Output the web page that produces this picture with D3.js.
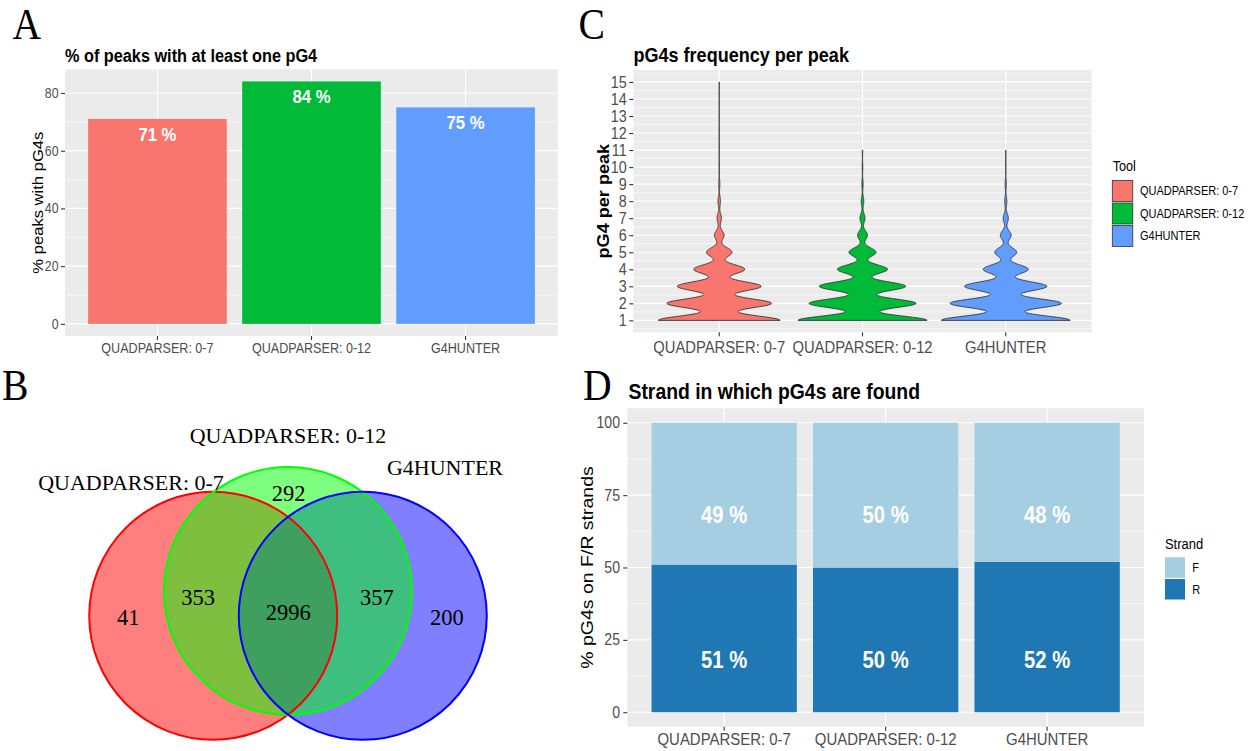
<!DOCTYPE html>
<html>
<head>
<meta charset="utf-8">
<script src="https://cdn.jsdelivr.net/npm/d3@7"></script>
<style>
  html, body { margin: 0; padding: 0; background: #ffffff; }
  svg { display: block; }
</style>
</head>
<body>
<svg id="fig" width="1256" height="751"></svg>
<script>
// ---------------- data ----------------
const tools = ["QUADPARSER: 0-7", "QUADPARSER: 0-12", "G4HUNTER"];
const toolColors = ["#F8766D", "#00BA38", "#619CFF"];

// A: % of peaks with at least one pG4
const pctWithPG4 = [71, 84, 75];
const pctTicks = [0, 20, 40, 60, 80];
const pctMinor = [10, 30, 50, 70];

// B: Venn region counts
const vennSets = ["QUADPARSER: 0-7", "QUADPARSER: 0-12", "G4HUNTER"];
const vennColors = ["#FF0000", "#00FF00", "#0000FF"];
const vennRegions = ["Q7 only", "Q12 only", "G4H only", "Q7 & Q12", "Q12 & G4H", "all three"];
const vennCounts = [41, 292, 200, 353, 357, 2996];

// C: number of pG4 per peak (peak counts per value)
const pg4Values   = [1, 2, 3, 4, 5, 6, 7, 8, 9, 10, 11, 12, 13, 14, 15];
const pg4CountsQ7  = [1016, 873, 700, 426, 213, 81, 37, 21, 10, 5, 3, 2, 1, 1, 1];
const pg4CountsQ12 = [1228, 1019, 823, 479, 258, 95, 49, 25, 12, 6, 4, 0, 0, 0, 0];
const pg4CountsG4H = [1116, 965, 714, 391, 190, 94, 45, 19, 11, 5, 3, 0, 0, 0, 0];
const pg4Ticks = [1, 2, 3, 4, 5, 6, 7, 8, 9, 10, 11, 12, 13, 14, 15];
const pg4Minor = [0.5, 1.5, 2.5, 3.5, 4.5, 5.5, 6.5, 7.5, 8.5, 9.5, 10.5, 11.5, 12.5, 13.5, 14.5, 15.5];

// D: strand distribution
const strands = ["F", "R"];
const strandColors = ["#A6CEE3", "#1F78B4"];
const pctForward = [49, 50, 48];
const pctReverse = [51, 50, 52];
const strandTicks = [0, 25, 50, 75, 100];
const strandMinor = [12.5, 37.5, 62.5, 87.5];

// ---------------- helpers ----------------
const svg = d3.select("#fig");
const SANS = "'Liberation Sans', Arial, Helvetica, sans-serif";
const SERIF = "'Liberation Serif', 'Times New Roman', Times, serif";
const SX = 0.88; // horizontal text compression of the plot panels

function txt(g, x, y, str, o = {}) {
  const sx = o.sx ?? SX;
  let tr = `translate(${x},${y}) scale(${sx},1)`;
  if (o.rot) tr += ` rotate(${o.rot})`;
  const t = g.append("text")
    .attr("transform", tr)
    .attr("font-family", o.family || SANS)
    .attr("font-size", o.size || 12)
    .attr("font-weight", o.weight || "normal")
    .attr("fill", o.fill || "#000000")
    .attr("text-anchor", o.anchor || "start")
    .text(str);
  if (o.dy) t.attr("dy", o.dy);
  return t;
}

function panelBackground(g, x, y, yMajor, yMinor) {
  const [xa, xb] = x.range();
  const [ya, yb] = y.range();
  g.append("rect").attr("x", xa).attr("y", yb).attr("width", xb - xa).attr("height", ya - yb)
    .attr("fill", "#EBEBEB");
  g.append("g").selectAll("line").data(yMinor).join("line")
    .attr("x1", xa).attr("x2", xb).attr("y1", d => y(d)).attr("y2", d => y(d))
    .attr("stroke", "#ffffff").attr("stroke-width", 0.6);
  g.append("g").selectAll("line").data(yMajor).join("line")
    .attr("x1", xa).attr("x2", xb).attr("y1", d => y(d)).attr("y2", d => y(d))
    .attr("stroke", "#ffffff").attr("stroke-width", 1.15);
  g.append("g").selectAll("line").data(x.domain()).join("line")
    .attr("x1", d => x(d) + x.bandwidth() / 2).attr("x2", d => x(d) + x.bandwidth() / 2)
    .attr("y1", yb).attr("y2", ya)
    .attr("stroke", "#ffffff").attr("stroke-width", 1.15);
}

function styleAxis(ax, size) {
  ax.select(".domain").remove();
  ax.selectAll(".tick line").attr("stroke", "#333333").attr("stroke-width", 1.1);
  ax.selectAll(".tick text")
    .attr("fill", "#4D4D4D").attr("font-size", size).attr("font-family", SANS)
    .each(function () {
      const t = d3.select(this);
      const tx = +t.attr("x") || 0, ty = +t.attr("y") || 0;
      t.attr("x", null).attr("y", null)
        .attr("transform", `translate(${tx},${ty}) scale(${SX},1)`);
    });
}

function axes(g, x, y, yTicks, opt) {
  const [ya] = y.range();
  const [xa] = x.range();
  const axB = g.append("g").attr("transform", `translate(0,${ya})`)
    .call(d3.axisBottom(x).tickSize(4).tickPadding(opt.xPad));
  styleAxis(axB, opt.xSize);
  const axL = g.append("g").attr("transform", `translate(${xa},0)`)
    .call(d3.axisLeft(y).tickValues(yTicks).tickSize(4).tickPadding(opt.yPad));
  styleAxis(axL, opt.ySize);
}

// panel letters
function panelLetter(x, y, s) {
  txt(svg, x, y, s, { family: SERIF, size: 44, sx: 0.9 });
}

// ---------------- A: bar chart ----------------
{
  const g = svg.append("g");
  const x = d3.scaleBand().domain(tools).range([65, 558]).paddingInner(0.1).paddingOuter(0.15);
  const y = d3.scaleLinear().domain([-4.2, 88.2]).range([336, 69.3]);
  panelBackground(g, x, y, pctTicks, pctMinor);

  g.append("g").selectAll("rect").data(tools).join("rect")
    .attr("x", d => x(d)).attr("width", x.bandwidth())
    .attr("y", (d, i) => y(pctWithPG4[i]))
    .attr("height", (d, i) => y(0) - y(pctWithPG4[i]))
    .attr("fill", (d, i) => toolColors[i]);

  tools.forEach((d, i) => {
    txt(g, x(d) + x.bandwidth() / 2, y(pctWithPG4[i]) + 22, `${pctWithPG4[i]} %`,
      { size: 19, weight: "bold", fill: "#ffffff", anchor: "middle" });
  });

  axes(g, x, y, pctTicks, { xPad: 3, xSize: 14.3, yPad: 2.5, ySize: 14 });

  txt(g, 65, 62, "% of peaks with at least one pG4", { size: 18.5, weight: "bold" });
  txt(g, 43, (y.range()[0] + y.range()[1]) / 2, "% peaks with pG4s",
    { size: 16.6, anchor: "middle", rot: -90 });
  panelLetter(12.5, 39.3, "A");
}

// ---------------- B: Venn diagram ----------------
{
  const g = svg.append("g");
  // unit layout of the three-set diagram, mapped to the page
  const vx = d3.scaleLinear().domain([-1, 1]).range([164, 412]);
  const vy = d3.scaleLinear().domain([-1, 1]).range([467, 715]);
  const r = vx(1) - vx(0);
  const circleLayout = [
    { cx: -0.603, cy: 0.2 },   // QUADPARSER: 0-7
    { cx: 0, cy: 0 },          // QUADPARSER: 0-12
    { cx: 0.603, cy: 0.2 }     // G4HUNTER
  ];
  const fillOrder = [0, 2, 1];
  fillOrder.forEach(i => {
    g.append("circle").attr("cx", vx(circleLayout[i].cx)).attr("cy", vy(circleLayout[i].cy)).attr("r", r)
      .attr("fill", vennColors[i]).attr("fill-opacity", 0.5);
  });
  [0, 1, 2].forEach(i => {
    g.append("circle").attr("cx", vx(circleLayout[i].cx)).attr("cy", vy(circleLayout[i].cy)).attr("r", r)
      .attr("fill", "none").attr("stroke", vennColors[i]).attr("stroke-width", 2);
  });

  // region label anchors (unit layout)
  const regionPos = [
    { x: -1.289, y: 0.214 },  // Q7 only
    { x: 0.005, y: -0.793 },  // Q12 only
    { x: 1.281, y: 0.214 },   // G4H only
    { x: -0.724, y: 0.052 },  // Q7 & Q12
    { x: 0.717, y: 0.052 },   // Q12 & G4H
    { x: 0.002, y: 0.169 }    // all three
  ];
  vennRegions.forEach((name, i) => {
    txt(g, vx(regionPos[i].x), vy(regionPos[i].y), String(vennCounts[i]),
      { family: SERIF, size: 22.5, anchor: "middle", sx: 1, dy: "0.35em" });
  });

  const setLabelPos = [
    { x: -1.266, y: -0.815 },
    { x: 0, y: -1.19 },
    { x: 1.266, y: -0.935 }
  ];
  vennSets.forEach((s, i) => {
    txt(g, vx(setLabelPos[i].x), vy(setLabelPos[i].y), s,
      { family: SERIF, size: 22, anchor: "middle", sx: 1 });
  });
  panelLetter(2, 400, "B");
}

// ---------------- C: violin plot ----------------
{
  const g = svg.append("g");
  const x = d3.scaleBand().domain(tools).range([633.3, 1091.7]).paddingInner(0.1).paddingOuter(0.15);
  const y = d3.scaleLinear().domain([0.3, 15.7]).range([332.3, 70]);
  panelBackground(g, x, y, pg4Ticks, pg4Minor);

  const countSets = [pg4CountsQ7, pg4CountsQ12, pg4CountsG4H];

  // gaussian kernel density with R's nrd0 bandwidth, trimmed to the data range
  function violinDensity(values, counts) {
    const expanded = [];
    values.forEach((v, i) => { for (let k = 0; k < counts[i]; k++) expanded.push(v); });
    const n = expanded.length;
    const sd = d3.deviation(expanded);
    const iqr = d3.quantileSorted(expanded, 0.75) - d3.quantileSorted(expanded, 0.25);
    const lo = Math.min(sd, iqr / 1.34) || sd || 1;
    const bw = 0.9 * lo * Math.pow(n, -0.2);
    const present = values.filter((v, i) => counts[i] > 0);
    const vmin = d3.min(present), vmax = d3.max(present);
    const grid = d3.range(512).map(i => vmin + (vmax - vmin) * i / 511);
    const norm = n * bw * Math.sqrt(2 * Math.PI);
    return grid.map(yv => ({
      y: yv,
      d: d3.sum(values, (v, i) => counts[i] * Math.exp(-0.5 * ((yv - v) / bw) ** 2)) / norm
    }));
  }

  const dens = countSets.map(c => violinDensity(pg4Values, c));
  const maxD = d3.max(dens, arr => d3.max(arr, p => p.d));
  const half = d3.scaleLinear().domain([0, maxD]).range([0, x.bandwidth() / 2]);

  tools.forEach((t, i) => {
    const cx = x(t) + x.bandwidth() / 2;
    const area = d3.area()
      .y(p => y(p.y))
      .x0(p => cx - half(p.d))
      .x1(p => cx + half(p.d));
    g.append("path").datum(dens[i]).attr("d", area)
      .attr("fill", toolColors[i]).attr("stroke", "#333333").attr("stroke-width", 0.9)
      .attr("stroke-linejoin", "round");
  });

  axes(g, x, y, pg4Ticks, { xPad: 5, xSize: 16.8, yPad: 2.6, ySize: 16.3 });

  txt(g, 633.5, 62, "pG4s frequency per peak", { size: 20.5, weight: "bold" });
  txt(g, 608.5, (y.range()[0] + y.range()[1]) / 2, "pG4 per peak",
    { size: 18.1, weight: "bold", anchor: "middle", rot: -90 });

  // legend
  txt(g, 1112.7, 170.7, "Tool", { size: 14.4 });
  tools.forEach((t, i) => {
    const top = 180.5 + i * 22.5;
    g.append("rect").attr("x", 1112.3).attr("y", top).attr("width", 20.5).attr("height", 21)
      .attr("fill", toolColors[i]).attr("stroke", "#333333").attr("stroke-width", 0.8);
    txt(g, 1140, top + 10.5, t, { size: 12.5, dy: "0.35em" });
  });
  panelLetter(578.5, 39.3, "C");
}

// ---------------- D: stacked strand bars ----------------
{
  const g = svg.append("g");
  const x = d3.scaleBand().domain(tools).range([627.3, 1144]).paddingInner(0.1).paddingOuter(0.15);
  const y = d3.scaleLinear().domain([-5, 105]).range([726.7, 408.3]);
  panelBackground(g, x, y, strandTicks, strandMinor);

  const rows = tools.map((t, i) => ({ tool: t, R: pctReverse[i], F: pctForward[i] }));
  const stack = d3.stack().keys(["R", "F"])(rows);
  const keyColor = { F: strandColors[0], R: strandColors[1] };
  stack.forEach(layer => {
    g.append("g").selectAll("rect").data(layer).join("rect")
      .attr("x", d => x(d.data.tool)).attr("width", x.bandwidth())
      .attr("y", d => y(d[1])).attr("height", d => y(d[0]) - y(d[1]))
      .attr("fill", keyColor[layer.key]);
  });

  // percentage labels at fixed heights inside each segment
  const labelLevel = { R: 25, F: 75 };
  rows.forEach(r => {
    const cx = x(r.tool) + x.bandwidth() / 2;
    txt(g, cx, y(labelLevel.F) + 28, `${r.F} %`, { size: 23, weight: "bold", fill: "#ffffff", anchor: "middle" });
    txt(g, cx, y(labelLevel.R) + 28, `${r.R} %`, { size: 23, weight: "bold", fill: "#ffffff", anchor: "middle" });
  });

  axes(g, x, y, strandTicks, { xPad: 2.6, xSize: 17, yPad: 3.3, ySize: 16 });

  txt(g, 628.5, 399, "Strand in which pG4s are found", { size: 22, weight: "bold" });
  txt(g, 593, (y.range()[0] + y.range()[1]) / 2, "% pG4s on F/R strands",
    { size: 19.5, anchor: "middle", rot: -90 });

  // legend
  txt(g, 1165, 549.3, "Strand", { size: 14.7 });
  strands.forEach((s, i) => {
    const top = 557.3 + i * 21.7;
    g.append("rect").attr("x", 1165).attr("y", top).attr("width", 20).attr("height", 20.5)
      .attr("fill", strandColors[i]);
    txt(g, 1192.3, top + 10.25, s, { size: 12.5, dy: "0.35em" });
  });
  panelLetter(583, 399.5, "D");
}
</script>
</body>
</html>
